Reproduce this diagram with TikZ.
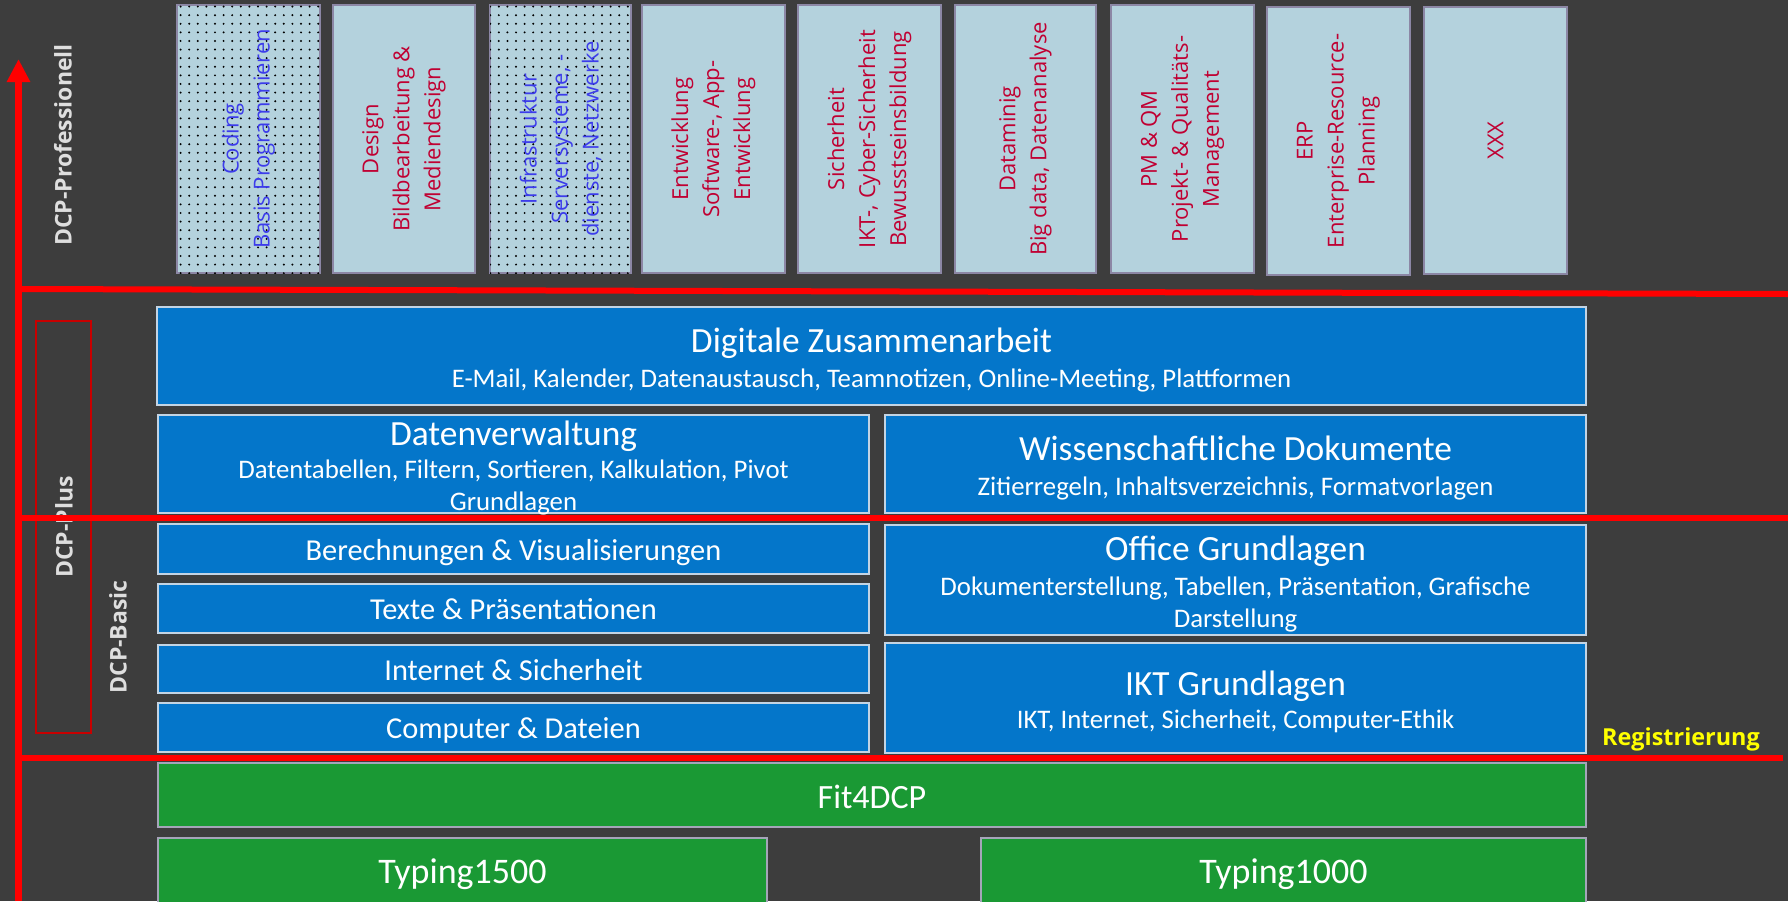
\documentclass[tikz,border=0pt]{standalone}
\usepackage{fontspec}
\setmainfont{Carlito}
\newfontfamily\osans{Open Sans}
\usetikzlibrary{arrows.meta,patterns.meta}

\definecolor{bg}{RGB}{61,61,61}
\definecolor{bfill}{RGB}{4,118,202}
\definecolor{bbord}{RGB}{195,212,228}
\definecolor{tfill}{RGB}{180,210,221}
\definecolor{tbord}{RGB}{140,135,165}
\definecolor{gfill}{RGB}{26,153,52}
\definecolor{gbord}{RGB}{165,165,185}
\definecolor{crim}{RGB}{192,0,50}
\definecolor{btxt}{RGB}{60,60,235}
\definecolor{lbl}{RGB}{222,222,222}
\definecolor{regy}{RGB}{255,255,0}
\definecolor{plusred}{RGB}{200,0,0}

\newcommand\mkbox[6]{\node[#1, minimum width={(#4-#2)*0.5pt}, minimum height={(#5-#3)*0.5pt}] (#6) at ({(#2+#4)/2},{(#3+#5)/2}) {};}

\tikzset{
  bluebox/.style={draw=bbord, fill=bfill, line width=0.8pt, inner sep=0pt, outer sep=0pt},
  greenbox/.style={draw=gbord, fill=gfill, line width=0.8pt, inner sep=0pt, outer sep=0pt},
  topbox/.style={draw=tbord, fill=tfill, line width=1pt, inner sep=0pt, outer sep=0pt},
  dotfill/.style={postaction={pattern={Dots[radius=0.55pt,distance=4.3pt]}, pattern color=black}},
  plusbox/.style={draw=plusred, line width=0.8pt, inner sep=0pt},
  redl/.style={draw=red, line width=3pt},
  vt/.style={rotate=90, align=center, font=\osans\fontsize{11}{15.5}\selectfont, text=crim, inner sep=0pt},
  lab/.style={rotate=90, font=\osans\bfseries\fontsize{11.5}{14}\selectfont, text=lbl, inner sep=0pt},
  ttl/.style={font=\fontsize{17.7}{20}\selectfont, text=white, anchor=base, inner sep=0pt},
  sub/.style={font=\fontsize{13.4}{16}\selectfont, text=white, anchor=base, inner sep=0pt},
  sml/.style={font=\fontsize{15.2}{17}\selectfont, text=white, anchor=base, inner sep=0pt},
  fitf/.style={font=\fontsize{17}{20}\selectfont, text=white, anchor=base, inner sep=0pt},
  big/.style={font=\fontsize{18}{21}\selectfont, text=white, anchor=base, inner sep=0pt},
}

\begin{document}
\begin{tikzpicture}[x=0.5pt, y=-0.5pt]
\useasboundingbox (0,0) rectangle (1788,901);
\fill[bg] (0,0) rectangle (1788,901);

% top boxes
\mkbox{topbox,dotfill}{177}{5}{320}{273}{t1}
\mkbox{topbox}{333}{5}{475}{273}{t2}
\mkbox{topbox,dotfill}{490}{5}{631}{273}{t3}
\mkbox{topbox}{642}{5}{785}{273}{t4}
\mkbox{topbox}{798}{5}{941}{273}{t5}
\mkbox{topbox}{955}{5}{1096}{273}{t6}
\mkbox{topbox}{1111}{5}{1254}{273}{t7}
\mkbox{topbox}{1267}{7}{1410}{275}{t8}
\mkbox{topbox}{1424}{7}{1567}{274}{t9}

\node[vt, text=btxt] (t1x) at (t1.center) {Coding\\Basis Programmieren};
\node[vt] (t2x) at (t2.center) {Design\\Bildbearbeitung \&\\Mediendesign};
\node[vt, text=btxt] (t3x) at (t3.center) {Infrastruktur\\Serversysteme, -\\dienste, Netzwerke};
\node[vt] (t4x) at (t4.center) {Entwicklung\\Software-, App-\\Entwicklung};
\node[vt] (t5x) at (t5.center) {Sicherheit\\IKT-, Cyber-Sicherheit\\Bewusstseinsbildung};
\node[vt] (t6x) at (t6.center) {Dataminig\\Big data, Datenanalyse};
\node[vt] (t7x) at (t7.center) {PM \& QM\\Projekt- \& Qualitäts-\\Management};
\node[vt] (t8x) at (t8.center) {ERP\\Enterprise-Resource-\\Planning};
\node[vt] (t9x) at (t9.center) {XXX};

% blue boxes
\mkbox{bluebox}{157}{307}{1586}{405}{dz}
\mkbox{bluebox}{158}{415}{869}{513}{dv}
\mkbox{bluebox}{885}{415}{1586}{513}{wd}
\mkbox{bluebox}{158}{524}{869}{574}{be}
\mkbox{bluebox}{158}{584}{869}{633}{tp}
\mkbox{bluebox}{158}{645}{869}{693}{is}
\mkbox{bluebox}{158}{703}{869}{752}{cd}
\mkbox{bluebox}{885}{525}{1586}{635}{og}
\mkbox{bluebox}{885}{643}{1586}{753}{ik}

% green boxes
\mkbox{greenbox}{158}{763}{1586}{827}{fit}
\mkbox{greenbox}{158}{838}{767}{908}{ty15}
\mkbox{greenbox}{981}{838}{1586}{908}{ty10}

% left labels
\mkbox{plusbox}{36}{321}{91}{733}{plus}
\node[lab] (lprof) at (63,145) {DCP-Professionell};
\node[lab] (lplus) at (64,527) {DCP-Plus};
\node[lab] (lbasic) at (118,637) {DCP-Basic};

% red lines
\coordinate (axB) at (18.5,901);
\coordinate (axT) at (18.5,59);
\coordinate (l1a) at (18,289);
\coordinate (l1b) at (1788,294);
\coordinate (l2a) at (18,518);
\coordinate (l2b) at (1788,518);
\coordinate (l3a) at (18,758);
\coordinate (l3b) at (1783,758);
\draw[redl] (l1a) -- (l1b);
\draw[redl] (l2a) -- (l2b);
\draw[redl] (l3a) -- (l3b);
\draw[draw=red, line width=3.5pt, -{Triangle[width=11pt,length=11.5pt]}] (axB) -- (axT);

\node[font=\osans\bfseries\fontsize{11.7}{14}\selectfont, text=regy, inner sep=0pt] (reg) at (1681,739) {Registrierung};

% texts in blue boxes
\node[ttl] (dzT) at (871.5,352) {Digitale Zusammenarbeit};
\node[sub] (dzS) at (871.5,387) {E-Mail, Kalender, Datenaustausch, Teamnotizen, Online-Meeting, Plattformen};
\node[ttl] (dvT) at (513.5,445) {Datenverwaltung};
\node[sub] (dvS) at (513.5,478) {Datentabellen, Filtern, Sortieren, Kalkulation, Pivot};
\node[sub] (dvS2) at (513.5,510) {Grundlagen};
\node[ttl] (wdT) at (1235.5,460) {Wissenschaftliche Dokumente};
\node[sub] (wdS) at (1235.5,495) {Zitierregeln, Inhaltsverzeichnis, Formatvorlagen};
\node[sml] (beT) at (513.5,560) {Berechnungen \& Visualisierungen};
\node[sml] (tpT) at (513.5,619) {Texte \& Präsentationen};
\node[sml] (isT) at (513.5,680) {Internet \& Sicherheit};
\node[sml] (cdT) at (513.5,738) {Computer \& Dateien};
\node[ttl] (ogT) at (1235.5,560) {Office Grundlagen};
\node[sub] (ogS) at (1235.5,595) {Dokumenterstellung, Tabellen, Präsentation, Grafische};
\node[sub] (ogS2) at (1235.5,627) {Darstellung};
\node[ttl] (ikT) at (1235.5,695) {IKT Grundlagen};
\node[sub] (ikS) at (1235.5,728) {IKT, Internet, Sicherheit, Computer-Ethik};
\node[fitf] (fitT) at (872,808) {Fit4DCP};
\node[big] (ty15T) at (462.5,883) {Typing1500};
\node[big] (ty10T) at (1283.5,883) {Typing1000};
\end{tikzpicture}
\end{document}
